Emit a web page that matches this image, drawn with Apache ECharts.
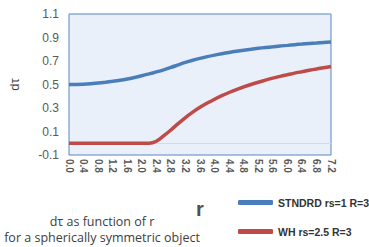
<!DOCTYPE html>
<html><head><meta charset="utf-8">
<script src="https://cdn.jsdelivr.net/npm/echarts@6/dist/echarts.min.js"></script>
<style>html,body{margin:0;padding:0;background:#fff}#c{width:369px;height:247px}</style>
</head><body><div id="c"></div>
<script>
const rValues = [0.0,0.2,0.4,0.6,0.8,1.0,1.2,1.4,1.6,1.8,2.0,2.2,2.4,2.6,2.8,3.0,3.2,3.4,3.6,3.8,4.0,4.2,4.4,4.6,4.8,5.0,5.2,5.4,5.6,5.8,6.0,6.2,6.4,6.6,6.8,7.0,7.2];
const stndrd = [0.500,0.501,0.503,0.507,0.512,0.519,0.527,0.536,0.547,0.560,0.574,0.590,0.607,0.625,0.645,0.667,0.688,0.706,0.722,0.737,0.750,0.762,0.773,0.783,0.792,0.800,0.808,0.815,0.821,0.828,0.833,0.839,0.844,0.849,0.853,0.857,0.861];
const wh = [0,0,0,0,0,0,0,0,0,0,0,0,0.017,0.063,0.113,0.167,0.219,0.265,0.306,0.342,0.375,0.405,0.432,0.457,0.479,0.500,0.519,0.537,0.554,0.569,0.583,0.597,0.609,0.621,0.632,0.643,0.653];
const yTicks = [-0.1,0.1,0.3,0.5,0.7,0.9,1.1];
const seriesNames = ['STNDRD rs=1 R=3','WH rs=2.5 R=3'];
const subtitle = 'dτ as function of r\nfor a spherically symmetric object';

const chart = echarts.init(document.getElementById('c'), null, {renderer:'svg'});
const pairs = arr => rValues.map((r,i)=>[r,arr[i]]);
chart.setOption({
  animation:false,
  textStyle:{fontFamily:'Liberation Sans'},
  grid:{left:65,right:38,top:14,bottom:92,show:true,backgroundColor:'#e9f0fa',borderColor:'#5b86c0',borderWidth:1},
  title:{text:subtitle,left:97,top:208,textAlign:'center',
    textStyle:{fontSize:12.5,fontWeight:'normal',color:'#404040',lineHeight:16,fontFamily:'Open Sans'}},
  legend:{orient:'vertical',left:238,top:197,width:131,itemGap:18,itemWidth:35,itemHeight:5,icon:'roundRect',padding:0,
    textStyle:{fontSize:10.5,fontWeight:'bold',color:'#333',fontFamily:'Liberation Sans Narrow, Liberation Sans'},data:seriesNames},
  xAxis:{type:'value',min:0,max:7.2,interval:0.4,
    name:'r',nameLocation:'middle',nameGap:44,nameTextStyle:{fontSize:20,fontWeight:'bold',color:'#505050'},
    axisLine:{show:false},axisTick:{show:false},splitLine:{show:false},
    axisLabel:{rotate:-90,fontSize:10,fontWeight:'bold',color:'#595959',margin:4,formatter:v=>v.toFixed(1)}},
  yAxis:{type:'value',min:-0.1,max:1.1,
    name:'dτ',nameLocation:'middle',nameGap:48,nameRotate:90,nameTextStyle:{fontSize:13,color:'#404040'},
    axisLine:{show:false},axisTick:{show:false},splitLine:{show:false},
    axisLabel:{customValues:yTicks,fontSize:12,color:'#595959',margin:10,formatter:v=>v.toFixed(1)}},
  series:[
    {name:seriesNames[0],type:'line',data:pairs(stndrd),smooth:0.3,showSymbol:false,
     lineStyle:{width:3.5,color:'#4a7ebb'},itemStyle:{color:'#4a7ebb'},z:3},
    {name:seriesNames[1],type:'line',data:pairs(wh),smooth:0.3,showSymbol:false,
     lineStyle:{width:3.5,color:'#be4b48'},itemStyle:{color:'#be4b48'},z:3,
     markLine:{silent:true,symbol:'none',label:{show:false},lineStyle:{color:'#d9d9d9',width:1,type:'solid'},data:[{yAxis:0}],z:1}}
  ]
});
</script></body></html>
